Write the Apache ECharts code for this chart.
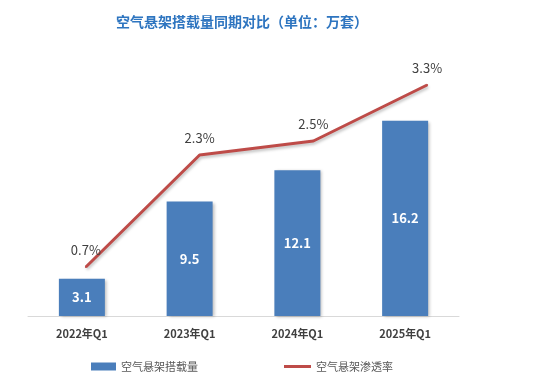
<!DOCTYPE html>
<html>
<head>
    <meta charset="utf-8">
    <title>空气悬架搭载量同期对比</title>
    <script src="https://cdn.jsdelivr.net/npm/echarts@6/dist/echarts.min.js"></script>
    <style>
        html, body { margin: 0; padding: 0; background: #fff; }
        #chart { width: 550px; height: 378px; }
    </style>
</head>
<body>
    <div id="chart"></div>
    <script>
        // 数据
        var quarters = ['2022年Q1', '2023年Q1', '2024年Q1', '2025年Q1'];
        var volume = [3.1, 9.5, 12.1, 16.2];      // 万套
        var penetration = [0.7, 2.3, 2.5, 3.3];   // %

        var font = '"Noto Sans CJK SC", "Noto Sans", sans-serif';
        var chart = echarts.init(document.getElementById('chart'));

        var option = {
            backgroundColor: '#ffffff',
            animation: false,
            textStyle: { fontFamily: font },
            title: {
                text: '空气悬架搭载量同期对比（单位：万套）',
                left: 237,
                top: 10,
                textAlign: 'center',
                textStyle: { color: '#2e75c0', fontSize: 14, fontWeight: 'bold', fontFamily: font }
            },
            legend: [
                {
                    left: 86, top: 356,
                    itemWidth: 25, itemHeight: 8, icon: 'rect',
                    data: ['空气悬架搭载量'],
                    textStyle: { color: '#595959', fontSize: 11, fontFamily: font }
                },
                {
                    left: 279, top: 356,
                    itemWidth: 27, itemHeight: 3, icon: 'rect',
                    data: ['空气悬架渗透率'],
                    textStyle: { color: '#595959', fontSize: 11, fontFamily: font }
                }
            ],
            grid: [
                { left: 28, width: 431, top: 75, height: 241 },
                { left: 29, width: 455, top: 71, height: 245 }
            ],
            xAxis: [
                {
                    type: 'category', gridIndex: 0, data: quarters,
                    axisLine: { lineStyle: { color: '#d9d9d9', width: 1 } },
                    axisTick: { show: false },
                    axisLabel: { color: '#404040', fontSize: 11, fontWeight: 'bold', margin: 12, fontFamily: font }
                },
                {
                    type: 'category', gridIndex: 1, data: quarters, show: false
                }
            ],
            yAxis: [
                { type: 'value', gridIndex: 0, min: 0, max: 20, show: false },
                { type: 'value', gridIndex: 1, min: 0, max: 3.5, show: false }
            ],
            series: [
                {
                    name: '空气悬架搭载量',
                    type: 'bar',
                    xAxisIndex: 0, yAxisIndex: 0,
                    data: volume,
                    barWidth: 46,
                    itemStyle: {
                        color: '#4a7ebb',
                        shadowColor: 'rgba(0,0,0,0.25)', shadowBlur: 3, shadowOffsetX: 2, shadowOffsetY: 1
                    },
                    label: {
                        show: true, position: 'inside',
                        color: '#ffffff', fontSize: 13, fontWeight: 'bold', fontFamily: font
                    }
                },
                {
                    name: '空气悬架渗透率',
                    type: 'line',
                    xAxisIndex: 1, yAxisIndex: 1,
                    data: penetration,
                    symbol: 'circle',
                    symbolSize: 2,
                    showSymbol: true,
                    color: '#be4b48',
                    itemStyle: { color: '#be4b48' },
                    lineStyle: {
                        color: '#be4b48', width: 3,
                        shadowColor: 'rgba(0,0,0,0.25)', shadowBlur: 3, shadowOffsetX: 1, shadowOffsetY: 2
                    },
                    label: {
                        show: true, position: 'top', distance: 9,
                        formatter: '{c}%',
                        color: '#404040', fontSize: 13, fontFamily: font
                    }
                }
            ]
        };

        chart.setOption(option);
    </script>
</body>
</html>
